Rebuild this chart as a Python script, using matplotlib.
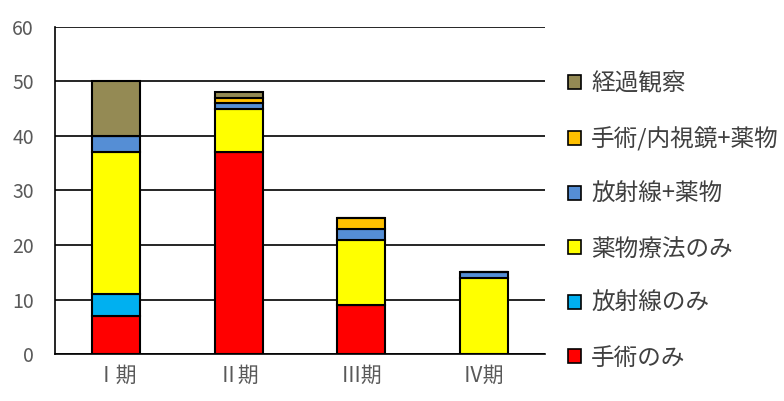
import matplotlib
matplotlib.use('Agg')
import matplotlib.pyplot as plt
import numpy as np

plt.rcParams['font.family'] = ['Noto Sans CJK JP', 'DejaVu Sans']

stages = ['Ⅰ期', 'Ⅱ期', 'Ⅲ期', 'Ⅳ期']
labels = ['手術のみ', '放射線のみ', '薬物療法のみ', '放射線+薬物', '手術/内視鏡+薬物', '経過観察']
colors = ['#FF0000', '#00B0F0', '#FFFF00', '#558ED5', '#FFC000', '#948A54']

surgery = [7, 37, 9, 0]
radiation = [4, 0, 0, 0]
drug = [26, 8, 12, 14]
rad_drug = [3, 1, 2, 1]
surg_drug = [0, 1, 2, 0]
observe = [10, 1, 0, 0]
series = [surgery, radiation, drug, rad_drug, surg_drug, observe]

fig = plt.figure(figsize=(7.84, 4.01), dpi=100)
ax = fig.add_axes([0.070, 0.117, 0.625, 0.816])

x = np.arange(len(stages))
bottom = np.zeros(len(stages))
handles = []
for vals, lab, col in zip(series, labels, colors):
    vals = np.array(vals, dtype=float)
    b = ax.bar(x, vals, width=0.39, bottom=bottom, color=col,
               edgecolor='black', linewidth=1.5, label=lab, zorder=3)
    handles.append(b)
    bottom += vals

ax.set_ylim(0, 60)
ax.set_xlim(-0.5, 3.5)
ax.set_yticks(range(0, 61, 10))
ax.set_xticks(x)
ax.set_xticklabels(stages)
ax.yaxis.grid(True, color='black', linewidth=1.2, zorder=0)
ax.tick_params(axis='both', length=0, labelsize=14, colors='#595959', pad=8)
ax.tick_params(axis='x', labelsize=15)
ax.tick_params(axis='y', pad=15)
for side in ['top', 'right']:
    ax.spines[side].set_visible(False)
ax.spines['left'].set_linewidth(1.2)
ax.spines['bottom'].set_linewidth(1.2)

leg = fig.legend(handles[::-1], labels[::-1], loc='upper left',
                 bbox_to_anchor=(0.697, 0.872), frameon=False,
                 fontsize=17, labelspacing=1.335, handlelength=0.55,
                 handleheight=0.55, handletextpad=0.45)
for t in leg.get_texts():
    t.set_color('#404040')
for h in leg.legend_handles:
    h.set_linewidth(1.2)

fig.savefig('out.png', dpi=100)
